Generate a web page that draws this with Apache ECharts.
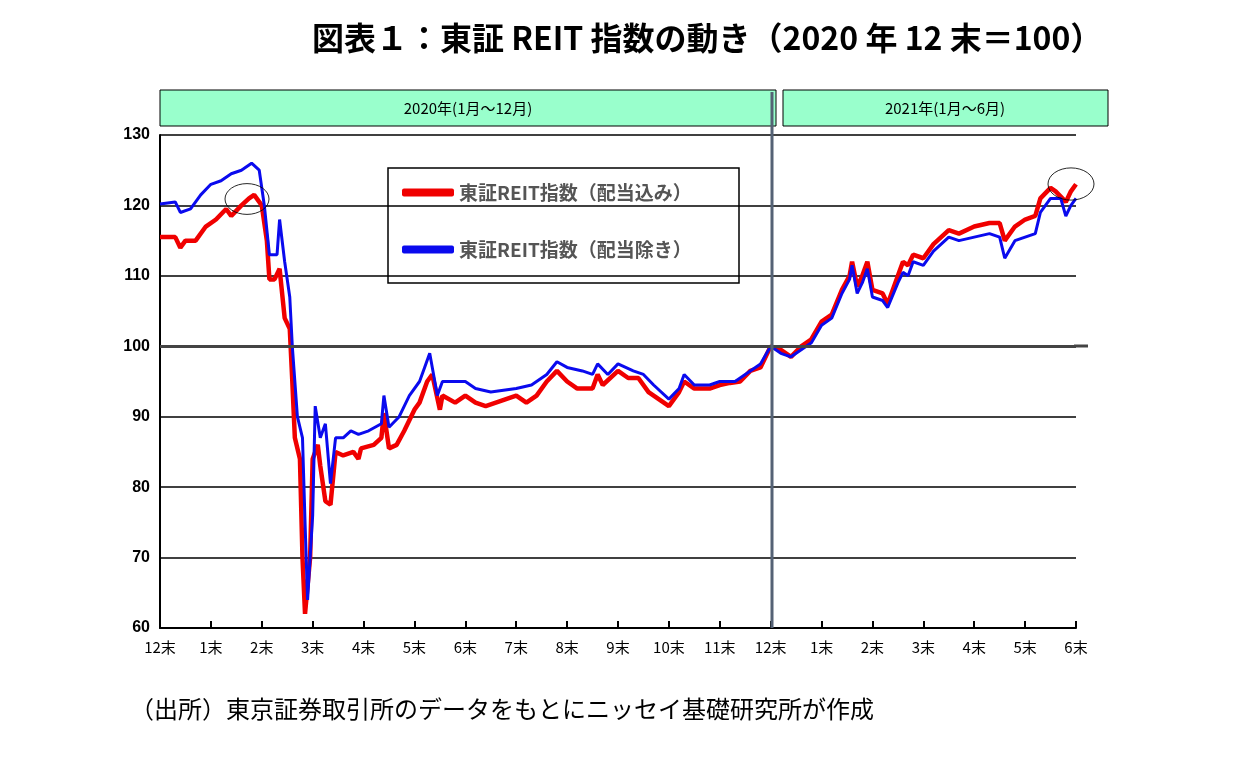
<!DOCTYPE html>
<html><head><meta charset="utf-8">
<script src="https://cdn.jsdelivr.net/npm/echarts@6/dist/echarts.min.js"></script>
<style>html,body{margin:0;background:#fff}#c{width:1241px;height:763px}</style></head>
<body><div id="c"></div>
<script>
const monthLabels = ['12末','1末','2末','3末','4末','5末','6末','7末','8末','9末','10末','11末','12末','1末','2末','3末','4末','5末','6末'];
const redX = [0,0.3,0.4,0.5,0.7,0.9,1.1,1.3,1.4,1.6,1.75,1.85,2.0,2.1,2.15,2.25,2.35,2.45,2.55,2.6,2.65,2.75,2.8,2.85,2.95,3.0,3.1,3.15,3.25,3.35,3.45,3.6,3.8,3.9,3.95,4.2,4.35,4.4,4.5,4.65,4.8,5.0,5.1,5.25,5.35,5.5,5.55,5.8,6.0,6.2,6.4,6.8,7.0,7.2,7.4,7.6,7.8,8.0,8.2,8.5,8.6,8.7,9.0,9.2,9.4,9.6,9.8,10.0,10.2,10.3,10.5,10.8,11.0,11.2,11.4,11.6,11.8,12.0,12.2,12.4,12.6,12.8,13.0,13.2,13.4,13.55,13.6,13.7,13.8,13.9,14.0,14.2,14.3,14.5,14.6,14.7,14.8,15.0,15.2,15.5,15.7,16.0,16.3,16.5,16.6,16.8,17.0,17.2,17.3,17.5,17.6,17.8,17.9,18.0];
const redY = [115.5,115.5,114,115,115,117,118,119.5,118.5,120,121,121.5,120,115,109.5,109.5,111,104,102.5,95,87,84,70,62,70,84,86,83,78,77.5,85,84.5,85,84,85.5,86,87,90.5,85.5,86,88,91,92,95,96,91,93,92,93,92,91.5,92.5,93,92,93,95,96.5,95,94,94,96,94.5,96.5,95.5,95.5,93.5,92.5,91.5,93.5,95,94,94,94.5,94.8,95,96.5,97,100,99.5,98.5,100,101,103.5,104.5,108,110,112,108.5,110,112,108,107.5,106,110,112,111.5,113,112.5,114.5,116.5,116,117,117.5,117.5,115,117,118,118.5,121,122.5,122,120.5,122,123];
const blueX = [0,0.3,0.4,0.6,0.8,1.0,1.2,1.4,1.6,1.8,1.95,2.05,2.15,2.3,2.35,2.45,2.55,2.6,2.7,2.8,2.85,2.9,3.0,3.05,3.15,3.25,3.35,3.45,3.6,3.75,3.9,4.1,4.35,4.4,4.5,4.7,4.9,5.1,5.2,5.3,5.45,5.55,5.8,6.0,6.2,6.5,7.0,7.3,7.6,7.8,8.0,8.3,8.5,8.6,8.8,9.0,9.3,9.5,9.7,10.0,10.2,10.3,10.5,10.8,11.0,11.3,11.6,11.8,12.0,12.2,12.4,12.6,12.8,13.0,13.2,13.4,13.55,13.6,13.7,13.8,13.9,14.0,14.2,14.3,14.5,14.6,14.7,14.8,15.0,15.2,15.5,15.7,16.0,16.3,16.5,16.6,16.8,17.0,17.2,17.3,17.5,17.7,17.8,17.9,18.0];
const blueY = [120.2,120.5,119,119.5,121.5,123,123.5,124.5,125,126,125,120,113,113,118,112,107,100,90,87,75,64,76,91.5,87,89,80.5,87,87,88,87.5,88,89,93,88.5,90,93,95,97,99,93,95,95,95,94,93.5,94,94.5,96,97.8,97,96.5,96,97.5,96,97.5,96.5,96,94.5,92.5,94,96,94.5,94.5,95,95,96.5,97.5,100,99,98.5,99.5,100.5,103,104,107.5,109.5,111.5,107.5,109,111,107,106.5,105.5,109,110.5,110,112,111.5,113.5,115.5,115,115.5,116,115.5,112.5,115,115.5,116,119,121,121,118.5,120,121];
const seriesNames = ['東証REIT指数（配当込み）','東証REIT指数（配当除き）'];
const zip = (a,b)=>a.map((v,i)=>[v,b[i]]);
const chart = echarts.init(document.getElementById('c'));
chart.setOption({
  animation:false,
  title:{text:'図表１：東証 REIT 指数の動き（2020 年 12 末＝100）',left:312,top:22,padding:0,
    textStyle:{fontSize:32,fontWeight:'bold',color:'#000',fontFamily:'"Noto Sans CJK JP"'}},
  grid:{left:160,right:165,top:135,bottom:135},
  legend:{orient:'vertical',left:402,top:183,padding:0,itemGap:38,
    itemWidth:52,itemHeight:8,icon:'roundRect',
    textStyle:{fontSize:19,fontWeight:'bold',color:'#555',fontFamily:'"Noto Sans CJK JP"'}},
  xAxis:{type:'value',min:0,max:18,interval:1,
    axisLine:{lineStyle:{color:'#000',width:2}},
    axisTick:{inside:true,length:7,lineStyle:{color:'#000',width:2}},
    splitLine:{show:false},
    axisLabel:{formatter:v=>monthLabels[v],fontSize:15,color:'#000',margin:12,fontFamily:'"Noto Sans CJK JP"'}},
  yAxis:{type:'value',min:60,max:130,interval:10,
    axisLine:{show:true,lineStyle:{color:'#000',width:2}},
    axisTick:{show:false},
    splitLine:{lineStyle:{color:'#000',width:1.5}},
    axisLabel:{fontSize:16,fontWeight:'bold',color:'#000',margin:10,fontFamily:'"Liberation Sans"'}},
  series:[
    {name:seriesNames[0],type:'line',data:zip(redX,redY),symbol:'none',lineStyle:{color:'#f00000',width:4.5},itemStyle:{color:'#f00000'},z:3},
    {name:seriesNames[1],type:'line',data:zip(blueX,blueY),symbol:'none',lineStyle:{color:'#0a0aee',width:3},itemStyle:{color:'#0a0aee'},z:4,
      markLine:{silent:true,symbol:'none',label:{show:false},lineStyle:{color:'#444',width:3,type:'solid'},data:[{yAxis:100}]}}
  ],
  graphic:[
    {type:'rect',shape:{x:388,y:168,width:351,height:115},style:{fill:'#fff',stroke:'#000',lineWidth:1.5},z:0},
    {type:'line',shape:{x1:1074,y1:346,x2:1088,y2:346},style:{stroke:'#444',lineWidth:3}},
    {type:'line',shape:{x1:772,y1:92,x2:772,y2:628},style:{stroke:'#556275',lineWidth:3},z:10},
    {type:'rect',shape:{x:160,y:90,width:616,height:36},style:{fill:'#99ffcc',stroke:'#000',lineWidth:1}},
    {type:'text',x:468,y:108,style:{text:'2020年(1月～12月)',fill:'#000',font:'15px "Noto Sans CJK JP"',align:'center',verticalAlign:'middle'}},
    {type:'rect',shape:{x:783,y:90,width:325,height:36},style:{fill:'#99ffcc',stroke:'#000',lineWidth:1}},
    {type:'text',x:945,y:108,style:{text:'2021年(1月～6月)',fill:'#000',font:'15px "Noto Sans CJK JP"',align:'center',verticalAlign:'middle'}},
    {type:'circle',x:247,y:199,scaleX:1.0,scaleY:0.7,shape:{cx:0,cy:0,r:22},style:{fill:'none',stroke:'#000',lineWidth:1},z:20},
    {type:'circle',x:1071,y:184,scaleX:1.0,scaleY:0.7,shape:{cx:0,cy:0,r:23},style:{fill:'none',stroke:'#000',lineWidth:1},z:20},
    {type:'text',left:130,top:697,style:{text:'（出所）東京証券取引所のデータをもとにニッセイ基礎研究所が作成',fill:'#000',font:'24px "Noto Sans CJK JP"'}}
  ]
});
</script></body></html>
